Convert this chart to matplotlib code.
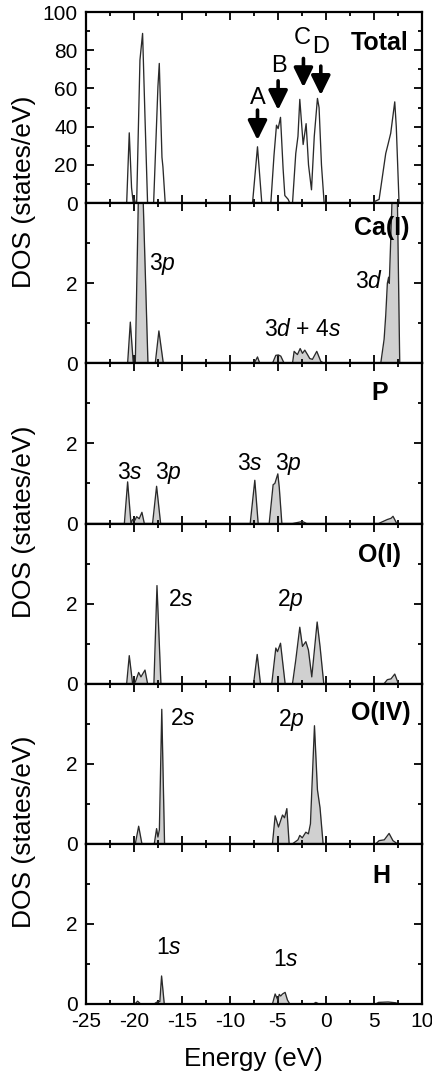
import matplotlib
matplotlib.use("Agg")
import matplotlib.pyplot as plt
from matplotlib.ticker import MultipleLocator

plt.rcParams['font.family'] = ['Liberation Sans', 'DejaVu Sans']
plt.rcParams['mathtext.fontset'] = 'custom'
plt.rcParams['mathtext.rm'] = 'Liberation Sans'
plt.rcParams['mathtext.it'] = 'Liberation Sans:italic'
plt.rcParams['axes.unicode_minus'] = False

# energy (eV) / DOS (states/eV) pairs for each panel
total_e = [-25, -20.76, -20.49, -20.25, -20.07, -19.95, -19.85, -19.72, -19.375, -19.10, -18.85, -18.58,
           -17.95, -17.5, -17.36, -17.08, -16.98, -16.74,
           -7.64, -7.12, -6.67,
           -5.73, -5.4, -5.14, -4.97, -4.72, -4.45, -4.27, -3.92, -3.75,
           -3.47, -3.13, -2.9, -2.71, -2.36, -2.05, -1.8, -1.49, -1.2, -0.87, -0.7, -0.45, -0.17,
           4.9, 5.14, 5.56, 6.25, 6.5, 6.77, 7.19, 7.35, 7.64, 10]
total_d = [0, 0, 36.8, 8, 0, 2, 0, 0, 74.9, 88.8, 45, 0,
           0, 61, 73.1, 24, 19, 0,
           0, 29.5, 0,
           0, 25, 40.8, 39, 44.9, 18, 4, 2, 0,
           0, 26, 35, 54.3, 30.7, 41.6, 20, 7, 35, 54.8, 50, 20, 0,
           0, 1, 2, 26, 31, 36.6, 53, 40, 0, 0]

ca_e = [-25, -20.66, -20.38, -20.07, -19.86, -19.55, -19.35, -19.2, -19.03, -18.54,
        -17.78, -17.40, -16.94,
        -7.47, -7.12, -6.88, -5.56, -5.21, -4.95, -4.69, -4.34,
        -3.47, -3.30, -3.1, -2.95, -2.67, -2.43, -2.19, -1.91, -1.67, -1.39, -0.94, -0.52, -0.17,
        5.73, 6.08, 6.25, 6.42, 6.55, 6.62, 6.94, 7.2, 7.47, 7.71, 10]
ca_d = [0, 0, 1.03, 0, 0, 4, 7.5, 7.5, 4, 0,
        0, 0.81, 0,
        0, 0.16, 0, 0, 0.2, 0.21, 0.18, 0,
        0, 0.3, 0.25, 0.22, 0.37, 0.25, 0.33, 0.22, 0.12, 0.1, 0.3, 0.05, 0,
        0, 0.6, 1.2, 2.0, 2.15, 2.0, 4.3, 5.5, 4.0, 0, 0]

p_e = [-25, -21.0, -20.66, -20.31, -20.14, -19.9, -19.72, -19.45, -19.17, -18.92,
       -18.06, -17.64, -17.22,
       -7.88, -7.40, -7.05,
       -5.90, -5.49, -5.31, -5.0, -4.85, -4.58,
       -3.47, -2.43, -2.0,
       5.5, 6.42, 6.8, 7.01, 7.4, 10]
p_d = [0, 0, 1.04, 0, 0.1, 0.08, 0.17, 0.12, 0.28, 0,
       0, 0.93, 0,
       0, 1.08, 0,
       0, 0.97, 1.0, 1.24, 0.9, 0,
       0, 0.05, 0,
       0, 0.1, 0.13, 0.18, 0, 0]

o1_e = [-25, -20.76, -20.49, -20.14, -19.86, -19.51, -19.27, -18.85, -18.58,
        -17.92, -17.60, -17.19,
        -7.53, -7.15, -6.81,
        -5.63, -5.21, -5.03, -4.72, -4.24,
        -3.47, -3.13, -2.71, -2.43, -2.08, -1.81, -1.46, -0.90, -0.6, -0.21,
        6.08, 6.42, 6.8, 7.19, 7.57, 10]
o1_d = [0, 0, 0.70, 0, 0.04, 0.28, 0.17, 0.34, 0,
        0, 2.45, 0,
        0, 0.73, 0,
        0, 0.89, 0.80, 1.01, 0,
        0, 0.59, 1.41, 0.93, 1.05, 0.84, 0.17, 1.54, 0.93, 0,
        0, 0.1, 0.12, 0.24, 0, 0]

o4_e = [-25, -19.86, -19.51, -19.17,
        -17.88, -17.64, -17.5, -17.35, -17.1, -16.81,
        -5.56, -5.28, -4.93, -4.51, -4.3, -4.06, -3.82,
        -3.47, -2.9, -2.71, -2.45, -2.08, -1.81, -1.6, -1.18, -0.87, -0.6, -0.28,
        5.21, 5.56, 6.1, 6.60, 7.0, 7.47, 10]
o4_d = [0, 0, 0.44, 0,
        0, 0.38, 0.17, 0.35, 3.36, 0,
        0, 0.70, 0.42, 0.72, 0.65, 0.88, 0,
        0, 0.1, 0.21, 0.15, 0.29, 0.25, 0.5, 2.95, 1.35, 0.9, 0,
        0, 0.08, 0.1, 0.26, 0.08, 0, 0]

h_e = [-25, -19.9, -19.62, -19.3,
       -17.9, -17.6, -17.3, -17.12, -16.84,
       -5.56, -5.28, -5.0, -4.85, -4.7, -4.51, -4.24, -4.0, -3.75,
       -1.3, -1.04, -0.7,
       5.2, 5.5, 6.5, 7.3, 7.6, 10]
h_d = [0, 0, 0.07, 0,
       0, 0.05, 0.06, 0.70, 0,
       0, 0.25, 0.1, 0.24, 0.2, 0.25, 0.29, 0.1, 0,
       0, 0.04, 0,
       0, 0.04, 0.05, 0.03, 0, 0]

panel_names = ['Total', 'Ca(I)', 'P', 'O(I)', 'O(IV)', 'H']
panel_name_pos = [(8.6, 83.6, 'right'), (8.7, 3.38, 'right'), (5.66, 3.25, 'center'),
                  (7.85, 3.22, 'right'), (8.85, 3.28, 'right'), (5.76, 3.2, 'center')]

# orbital labels: (panel, energy, baseline height, text)
orbitals = [
    (1, -17.08, 2.33, r'3$\mathit{p}$'),
    (1, 4.48, 1.88, r'3$\mathit{d}$'),
    (1, -2.40, 0.68, r'3$\mathit{d}$ + 4$\mathit{s}$'),
    (2, -20.42, 1.12, r'3$\mathit{s}$'),
    (2, -16.39, 1.12, r'3$\mathit{p}$'),
    (2, -7.88, 1.34, r'3$\mathit{s}$'),
    (2, -3.89, 1.33, r'3$\mathit{p}$'),
    (3, -15.07, 1.94, r'2$\mathit{s}$'),
    (3, -3.68, 1.94, r'2$\mathit{p}$'),
    (4, -14.9, 2.97, r'2$\mathit{s}$'),
    (4, -3.54, 2.95, r'2$\mathit{p}$'),
    (5, -16.35, 1.26, r'1$\mathit{s}$'),
    (5, -4.13, 0.95, r'1$\mathit{s}$'),
]

# feature arrows in the total DOS: letter, energy, letter y, arrow tail, arrow tip
features = ['A', 'B', 'C', 'D']
feature_e = [-7.12, -4.97, -2.33, -0.52]
feature_lbl_e = [-7.12, -4.86, -2.5, -0.52]
feature_lbl_y = [55.1, 71.7, 86.5, 81.5]
arrow_tail = [48.7, 64.0, 75.7, 71.7]
arrow_tip = [33.0, 48.7, 60.6, 56.5]

curves = [(total_e, total_d), (ca_e, ca_d), (p_e, p_d), (o1_e, o1_d), (o4_e, o4_d), (h_e, h_d)]

fig = plt.figure(figsize=(4.32, 10.73), dpi=100)
gs = fig.add_gridspec(6, 1, height_ratios=[191, 160, 160, 160, 160, 160], hspace=0,
                      left=86 / 432, right=421.7 / 432, bottom=69 / 1073, top=1061 / 1073)
axes = [fig.add_subplot(gs[i]) for i in range(6)]

for i, ax in enumerate(axes):
    e, d = curves[i]
    if i > 0:
        ax.fill_between(e, d, color='#d0d0d0', lw=0)
    ax.plot(e, d, color='#2a2a2a', lw=0.95)
    ax.set_xlim(-25, 10)
    ax.xaxis.set_major_locator(MultipleLocator(5))
    ax.xaxis.set_minor_locator(MultipleLocator(2.5))
    if i == 0:
        ax.set_ylim(0, 100)
        ax.set_yticks([0, 20, 40, 60, 80, 100])
        ax.yaxis.set_minor_locator(MultipleLocator(10))
    else:
        ax.set_ylim(0, 4)
        ax.set_yticks([0, 2])
        ax.set_yticks([1, 3, 4], minor=True)
    for s in ax.spines.values():
        s.set_linewidth(1.6)
    ax.tick_params(which='both', direction='in', top=True, right=True, width=1.3, labelsize=15)
    ax.tick_params(which='major', length=5.5, pad=6)
    ax.tick_params(which='minor', length=3)
    if i < 5:
        ax.tick_params(labelbottom=False)
    x, y, ha = panel_name_pos[i]
    ax.text(x, y, panel_names[i], ha=ha, va='center', fontsize=18, fontweight='bold')

for i, x, y, s in orbitals:
    axes[i].text(x, y, s, ha='center', va='baseline', fontsize=16.5)

for k in range(len(features)):
    axes[0].annotate('', xy=(feature_e[k], arrow_tip[k]), xytext=(feature_e[k], arrow_tail[k]),
                     arrowprops=dict(arrowstyle='-|>,head_width=0.32,head_length=0.65', lw=2.6,
                                     color='black', mutation_scale=18, shrinkA=0, shrinkB=0))
    axes[0].text(feature_lbl_e[k], feature_lbl_y[k], features[k], ha='center', va='center', fontsize=17)

axes[-1].tick_params(axis='x', pad=6)
axes[-1].set_xlabel('Energy (eV)', fontsize=18.7, labelpad=11)

for yc in (192, 522, 832):
    fig.text(24 / 432, 1 - yc / 1073, 'DOS (states/eV)', rotation=90, ha='center', va='center',
             fontsize=19)

fig.savefig('out.png', dpi=100)
